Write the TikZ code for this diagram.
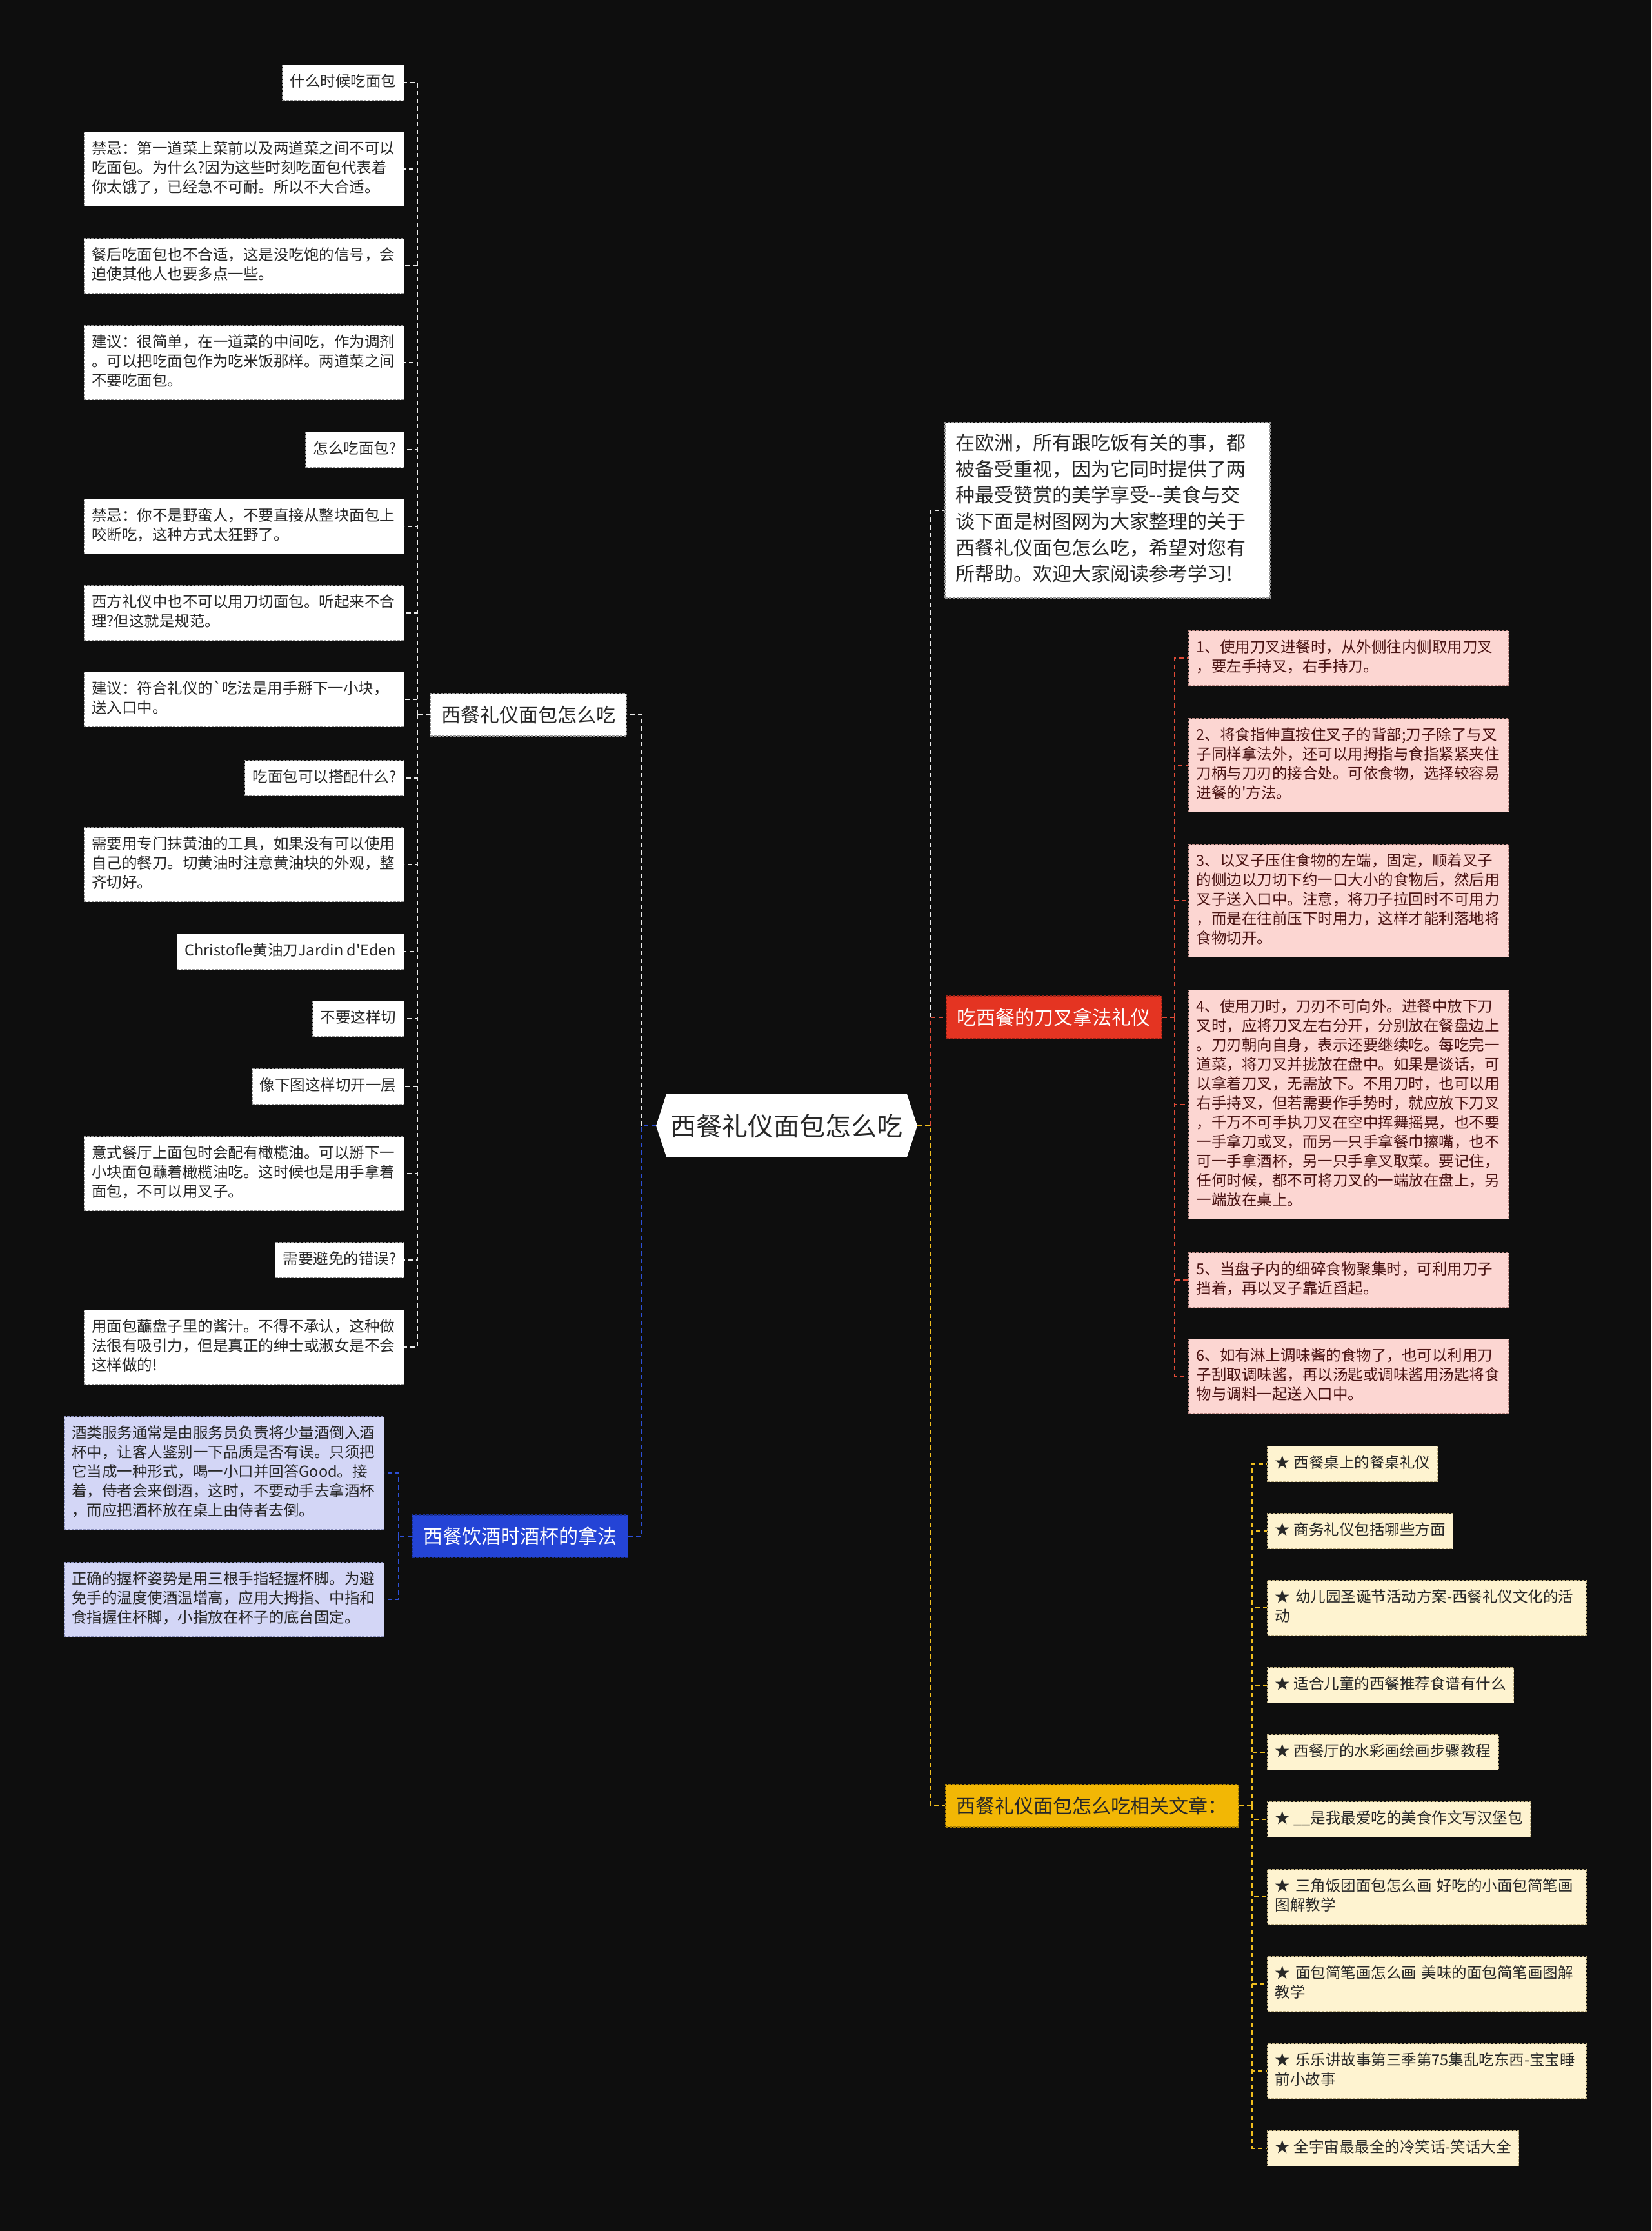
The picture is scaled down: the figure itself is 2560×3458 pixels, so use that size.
\documentclass[tikz,border=0pt]{standalone}
\usepackage{fontspec}
\newfontfamily\zh{Noto Sans CJK SC}
\usetikzlibrary{positioning}

\definecolor{bg}{RGB}{14,14,14}
\definecolor{ink}{RGB}{40,40,40}
\definecolor{wedge}{RGB}{150,150,150}
\definecolor{wlink}{RGB}{235,235,235}
\definecolor{rink}{RGB}{75,20,20}
\definecolor{rpale}{RGB}{252,214,210}
\definecolor{redge}{RGB}{190,140,135}
\definecolor{rnode}{RGB}{228,52,34}
\definecolor{rlink}{RGB}{225,75,55}
\definecolor{bpale}{RGB}{211,214,246}
\definecolor{bedge}{RGB}{140,145,190}
\definecolor{bnode}{RGB}{36,68,214}
\definecolor{blink}{RGB}{45,80,215}
\definecolor{ypale}{RGB}{254,243,208}
\definecolor{yedge}{RGB}{190,175,130}
\definecolor{ynode}{RGB}{242,183,5}
\definecolor{ylink}{RGB}{240,190,30}

\begin{document}
\begin{tikzpicture}[x=1pt, y=-1pt,
    leaf/.style={rectangle, dash pattern=on 4pt off 2pt, line width=1.5pt, inner xsep=12pt, inner ysep=12.5pt, align=left, text=ink, font=\zh\fontsize{23.5}{30}\selectfont, execute at begin node=\strut, execute at end node=\strut},
    wtext/.style={text width=472pt},
    wleaf/.style={leaf, fill=white, draw=wedge, anchor=east},
    rleaf/.style={leaf, wtext, fill=rpale, draw=redge, text=rink, anchor=west},
    bleaf/.style={leaf, wtext, fill=bpale, draw=bedge, anchor=east},
    yleaf/.style={leaf, fill=ypale, draw=yedge, anchor=west},
    branch/.style={rectangle, dash pattern=on 4pt off 2pt, line width=1.5pt, minimum height=66pt, inner xsep=17pt, font=\zh\fontsize{30}{36}\selectfont},
    wline/.style={draw=wlink, line width=2.5pt, dash pattern=on 7pt off 5pt},
    rline/.style={wline, draw=rlink},
    bline/.style={wline, draw=blink},
    yline/.style={wline, draw=ylink}
]
\useasboundingbox (0,0) rectangle (2560,3458);
\fill[bg] (0,0) rectangle (2560,3458);

% root
\fill[white] (1017,1745) -- (1033,1696) -- (1406,1696) -- (1422,1745) -- (1406,1793) -- (1033,1793) -- cycle;
\node[minimum width=405pt, minimum height=97pt, inner sep=0pt, text=ink, font=\zh\fontsize{40}{48}\selectfont] (root) at (1219.5,1745) {西餐礼仪面包怎么吃};

% branches
\node[branch, fill=white, draw=wedge, text=ink, anchor=east] (lb) at (972,1108) {西餐礼仪面包怎么吃};
\node[branch, fill=bnode, draw=bnode!70!black, text=white, anchor=east] (bn) at (974,2381) {西餐饮酒时酒杯的拿法};
\node[branch, fill=rnode, draw=rnode!70!black, text=white, anchor=west] (rn) at (1466,1577) {吃西餐的刀叉拿法礼仪};
\node[branch, fill=ynode, draw=ynode!70!black, text=ink, anchor=west] (yn) at (1465,2799) {西餐礼仪面包怎么吃相关文章：};
\node[leaf, fill=white, draw=wedge, anchor=west, text width=470pt, inner xsep=17pt, inner ysep=14pt, font=\zh\fontsize{30}{40.7}\selectfont] (intro) at (1464,791) {在欧洲，所有跟吃饭有关的事，都\\被备受重视，因为它同时提供了两\\种最受赞赏的美学享受--美食与交\\谈下面是树图网为大家整理的关于\\西餐礼仪面包怎么吃，希望对您有\\所帮助。欢迎大家阅读参考学习!};

% left leaves
\node[wleaf] (l1) at (627,128) {什么时候吃面包};
\node[wleaf, wtext] (l2) at (627,262) {禁忌：第一道菜上菜前以及两道菜之间不可以\\吃面包。为什么?因为这些时刻吃面包代表着\\你太饿了，已经急不可耐。所以不大合适。};
\node[wleaf, wtext] (l3) at (627,412) {餐后吃面包也不合适，这是没吃饱的信号，会\\迫使其他人也要多点一些。};
\node[wleaf, wtext] (l4) at (627,562) {建议：很简单，在一道菜的中间吃，作为调剂\\。可以把吃面包作为吃米饭那样。两道菜之间\\不要吃面包。};
\node[wleaf] (l5) at (627,697) {怎么吃面包?};
\node[wleaf, wtext] (l6) at (627,816) {禁忌：你不是野蛮人，不要直接从整块面包上\\咬断吃，这种方式太狂野了。};
\node[wleaf, wtext] (l7) at (627,950) {西方礼仪中也不可以用刀切面包。听起来不合\\理?但这就是规范。};
\node[wleaf, wtext] (l8) at (627,1084) {建议：符合礼仪的`吃法是用手掰下一小块，\\送入口中。};
\node[wleaf] (l9) at (627,1206) {吃面包可以搭配什么?};
\node[wleaf, wtext] (l10) at (627,1340) {需要用专门抹黄油的工具，如果没有可以使用\\自己的餐刀。切黄油时注意黄油块的外观，整\\齐切好。};
\node[wleaf] (l11) at (627,1475) {Christofle黄油刀Jardin d'Eden};
\node[wleaf] (l12) at (627,1579) {不要这样切};
\node[wleaf] (l13) at (627,1684) {像下图这样切开一层};
\node[wleaf, wtext] (l14) at (627,1819) {意式餐厅上面包时会配有橄榄油。可以掰下一\\小块面包蘸着橄榄油吃。这时候也是用手拿着\\面包，不可以用叉子。};
\node[wleaf] (l15) at (627,1953) {需要避免的错误?};
\node[wleaf, wtext] (l16) at (627,2088) {用面包蘸盘子里的酱汁。不得不承认，这种做\\法很有吸引力，但是真正的绅士或淑女是不会\\这样做的!};

% blue leaves
\node[bleaf] (b1) at (596,2283) {酒类服务通常是由服务员负责将少量酒倒入酒\\杯中，让客人鉴别一下品质是否有误。只须把\\它当成一种形式，喝一小口并回答Good。接\\着，侍者会来倒酒，这时，不要动手去拿酒杯\\，而应把酒杯放在桌上由侍者去倒。};
\node[bleaf] (b2) at (596,2479) {正确的握杯姿势是用三根手指轻握杯脚。为避\\免手的温度使酒温增高，应用大拇指、中指和\\食指握住杯脚，小指放在杯子的底台固定。};

% red leaves
\node[rleaf] (r1) at (1842,1020) {1、使用刀叉进餐时，从外侧往内侧取用刀叉\\，要左手持叉，右手持刀。};
\node[rleaf] (r2) at (1842,1186) {2、将食指伸直按住叉子的背部;刀子除了与叉\\子同样拿法外，还可以用拇指与食指紧紧夹住\\刀柄与刀刃的接合处。可依食物，选择较容易\\进餐的'方法。};
\node[rleaf] (r3) at (1842,1396) {3、以叉子压住食物的左端，固定，顺着叉子\\的侧边以刀切下约一口大小的食物后，然后用\\叉子送入口中。注意，将刀子拉回时不可用力\\，而是在往前压下时用力，这样才能利落地将\\食物切开。};
\node[rleaf] (r4) at (1842,1712) {4、使用刀时，刀刃不可向外。进餐中放下刀\\叉时，应将刀叉左右分开，分别放在餐盘边上\\。刀刃朝向自身，表示还要继续吃。每吃完一\\道菜，将刀叉并拢放在盘中。如果是谈话，可\\以拿着刀叉，无需放下。不用刀时，也可以用\\右手持叉，但若需要作手势时，就应放下刀叉\\，千万不可手执刀叉在空中挥舞摇晃，也不要\\一手拿刀或叉，而另一只手拿餐巾擦嘴，也不\\可一手拿酒杯，另一只手拿叉取菜。要记住，\\任何时候，都不可将刀叉的一端放在盘上，另\\一端放在桌上。};
\node[rleaf] (r5) at (1842,1984) {5、当盘子内的细碎食物聚集时，可利用刀子\\挡着，再以叉子靠近舀起。};
\node[rleaf] (r6) at (1842,2133) {6、如有淋上调味酱的食物了，也可以利用刀\\子刮取调味酱，再以汤匙或调味酱用汤匙将食\\物与调料一起送入口中。};

% yellow leaves
\node[yleaf] (y1) at (1964,2269) {★ 西餐桌上的餐桌礼仪};
\node[yleaf] (y2) at (1964,2373) {★ 商务礼仪包括哪些方面};
\node[yleaf, text width=470pt] (y3) at (1964,2492) {★ 幼儿园圣诞节活动方案-西餐礼仪文化的活\\动};
\node[yleaf] (y4) at (1964,2612) {★ 适合儿童的西餐推荐食谱有什么};
\node[yleaf] (y5) at (1964,2716) {★ 西餐厅的水彩画绘画步骤教程};
\node[yleaf] (y6) at (1964,2820) {★ \_\_是我最爱吃的美食作文写汉堡包};
\node[yleaf, text width=470pt] (y7) at (1964,2940) {★ 三角饭团面包怎么画 好吃的小面包简笔画\\图解教学};
\node[yleaf, text width=470pt] (y8) at (1964,3075) {★ 面包简笔画怎么画 美味的面包简笔画图解\\教学};
\node[yleaf, text width=470pt] (y9) at (1964,3210) {★ 乐乐讲故事第三季第75集乱吃东西-宝宝睡\\前小故事};
\node[yleaf] (y10) at (1964,3330) {★ 全宇宙最最全的冷笑话-笑话大全};

% connectors
\coordinate (cl) at (995,1745);
\coordinate (cr) at (1443,1745);
\coordinate (lj) at (647,1108);
\coordinate (bj) at (618,2381);
\coordinate (rj) at (1821,1577);
\coordinate (yj) at (1941,2799);

\draw[wline] (cl) |- (lb.east);
\draw[bline] (root.west) -- (cl) |- (bn.east);
\draw[wline] (cr) |- (intro.west);
\draw[rline] (cr) |- (rn.west);
\draw[yline] (root.east) -- (cr) |- (yn.west);

\draw[wline] (lb.west) -- (lj);
\foreach \i in {1,...,16} \draw[wline] (lj) |- (l\i.east);
\draw[bline] (bn.west) -- (bj);
\foreach \i in {1,2} \draw[bline] (bj) |- (b\i.east);
\draw[rline] (rn.east) -- (rj);
\foreach \i in {1,...,6} \draw[rline] (rj) |- (r\i.west);
\draw[yline] (yn.east) -- (yj);
\foreach \i in {1,...,10} \draw[yline] (yj) |- (y\i.west);
\end{tikzpicture}
\end{document}
